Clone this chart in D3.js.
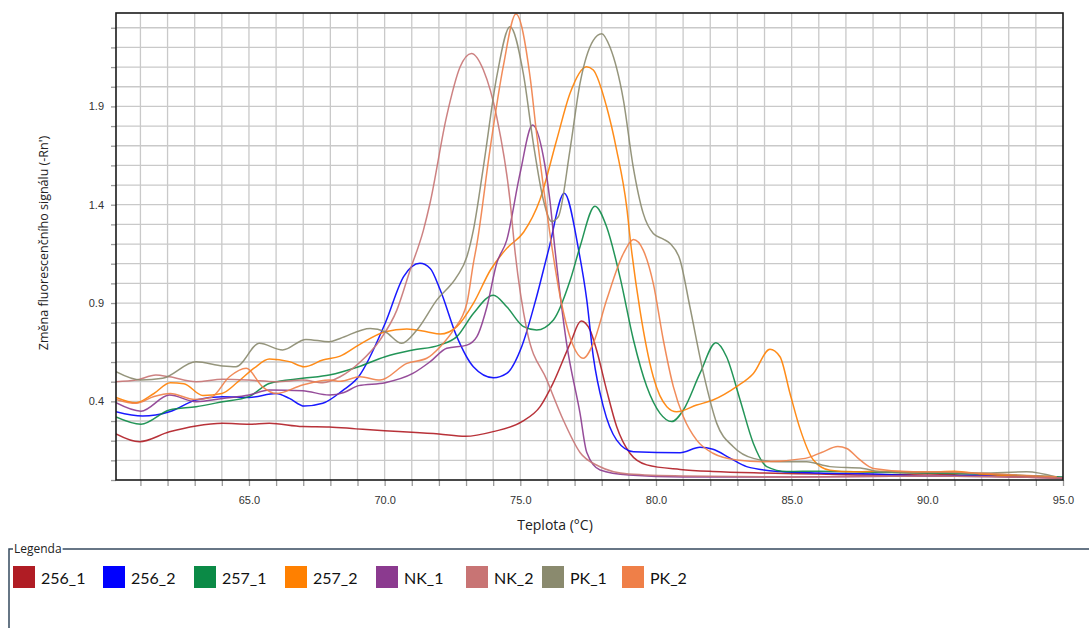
<!DOCTYPE html>
<html>
<head>
<meta charset="utf-8">
<script src="https://cdn.jsdelivr.net/npm/d3@7"></script>
<style>
  body { margin: 0; background: #fff; }
  svg { display: block; }
</style>
</head>
<body>
<div id="chart"></div>
<script>
// melt curves, [teplota, -Rn']
const s256_1 = [[60.1,0.235],[60.96,0.195],[62.07,0.245],[63.05,0.275],[64.03,0.288],[65.0,0.283],[65.75,0.288],[66.98,0.272],[67.96,0.27],[68.95,0.26],[70.0,0.25],[71.0,0.243],[72.0,0.234],[72.97,0.222],[74.0,0.246],[75.06,0.297],[75.73,0.373],[76.2,0.49],[76.84,0.695],[77.24,0.808],[77.57,0.762],[77.81,0.661],[78.18,0.457],[78.55,0.272],[79.04,0.136],[79.66,0.077],[80.89,0.054],[82.1,0.043],[84,0.035],[86,0.03],[88,0.025],[90,0.03],[92,0.02],[95,0.01]];
const s256_2 = [[60.1,0.347],[61.08,0.325],[62.07,0.347],[63.05,0.407],[64.03,0.424],[65.0,0.42],[66.0,0.44],[66.49,0.415],[67.04,0.376],[67.72,0.39],[68.45,0.455],[69.04,0.525],[70.02,0.797],[70.7,1.034],[71.3,1.102],[71.68,1.076],[72.05,0.966],[72.66,0.729],[73.27,0.576],[74.01,0.52],[74.5,0.542],[75.05,0.678],[75.6,0.932],[76.04,1.169],[76.62,1.458],[77.15,1.169],[77.45,0.915],[77.69,0.627],[78.06,0.373],[78.55,0.203],[79.17,0.144],[80.89,0.139],[81.62,0.166],[82.1,0.156],[82.73,0.111],[83.34,0.068],[84.57,0.043],[86,0.035],[88,0.03],[89.5,0.022],[90.5,0.02],[92,0.025],[95,0.012]];
const s257_1 = [[60.1,0.321],[61.02,0.284],[62.07,0.356],[63.05,0.373],[64.03,0.398],[65.0,0.424],[65.75,0.491],[66.98,0.517],[67.96,0.534],[69.04,0.576],[70.02,0.627],[71.04,0.661],[72.02,0.686],[72.66,0.729],[73.27,0.847],[74.01,0.94],[74.5,0.881],[75.12,0.78],[75.6,0.763],[76.22,0.814],[76.84,1.017],[77.2,1.186],[77.75,1.392],[78.18,1.288],[78.67,1.034],[79.17,0.712],[79.66,0.475],[80.15,0.339],[80.58,0.297],[81.01,0.356],[81.62,0.542],[82.21,0.698],[82.6,0.627],[83.1,0.407],[83.59,0.186],[84.08,0.068],[84.82,0.043],[86,0.045],[88,0.04],[90,0.035],[92,0.03],[95,0.015]];
const s257_2 = [[60.1,0.42],[60.84,0.393],[61.5,0.44],[62.1,0.495],[62.6,0.49],[63.3,0.43],[64.0,0.44],[64.6,0.5],[65.2,0.57],[65.75,0.615],[66.49,0.602],[67.04,0.576],[67.72,0.61],[68.36,0.63],[69.04,0.686],[70.02,0.754],[70.82,0.768],[71.55,0.754],[72.05,0.742],[72.66,0.78],[73.27,0.898],[73.9,1.068],[74.5,1.178],[75.12,1.26],[75.72,1.424],[76.34,1.729],[76.83,1.966],[77.44,2.102],[77.69,2.085],[78.18,1.898],[78.55,1.678],[78.92,1.389],[79.08,1.19],[79.41,0.864],[79.9,0.525],[80.4,0.373],[80.76,0.347],[81.5,0.381],[82.1,0.407],[82.97,0.475],[83.59,0.542],[84.2,0.665],[84.57,0.627],[84.94,0.44],[85.31,0.26],[85.8,0.102],[86.41,0.05],[87.27,0.042],[88.25,0.045],[90,0.04],[91,0.045],[92,0.03],[95,0.012]];
const sNK_1 = [[60.1,0.393],[61.02,0.35],[62.07,0.432],[63.05,0.398],[64.03,0.415],[65.0,0.432],[65.75,0.458],[66.98,0.454],[67.96,0.432],[68.5,0.445],[69.04,0.48],[70.02,0.495],[71.04,0.542],[71.68,0.602],[72.29,0.67],[73.03,0.686],[73.4,0.729],[73.77,0.881],[74.13,1.102],[74.5,1.22],[74.99,1.559],[75.45,1.805],[75.85,1.644],[76.09,1.423],[76.28,1.169],[76.7,0.7],[77.2,0.34],[77.45,0.14],[77.94,0.051],[79,0.025],[81,0.015],[85,0.015],[90,0.02],[95,0.01]];
const sNK_2 = [[60.1,0.5],[60.84,0.508],[61.57,0.534],[62.07,0.525],[63.05,0.5],[64.03,0.512],[65.0,0.508],[66.0,0.5],[66.98,0.508],[67.72,0.495],[68.36,0.525],[69.1,0.6],[69.83,0.712],[70.45,0.864],[70.94,1.068],[71.43,1.271],[71.67,1.406],[72.28,1.847],[72.78,2.1],[73.2,2.169],[73.64,2.085],[74.13,1.847],[74.62,1.423],[74.8,1.169],[75.24,0.763],[75.98,0.508],[76.6,0.3],[77.2,0.14],[77.9,0.07],[79,0.03],[81,0.02],[85,0.015],[90,0.02],[95,0.01]];
const sPK_1 = [[60.1,0.551],[61.02,0.508],[61.82,0.517],[63.05,0.601],[64.03,0.58],[64.52,0.576],[65.38,0.695],[66.24,0.661],[67.1,0.715],[67.96,0.703],[68.36,0.72],[69.47,0.771],[70.02,0.754],[70.63,0.695],[71.19,0.763],[71.92,0.915],[72.66,1.034],[73.03,1.135],[73.27,1.271],[73.64,1.593],[74.13,2.05],[74.62,2.305],[75.11,2.068],[75.48,1.712],[75.85,1.424],[76.15,1.315],[76.4,1.339],[76.83,1.678],[77.2,2.017],[77.69,2.236],[78.0,2.27],[78.3,2.203],[78.8,1.932],[79.16,1.593],[79.53,1.356],[79.9,1.254],[80.27,1.225],[80.52,1.203],[80.89,1.118],[81.25,0.881],[81.75,0.542],[82.24,0.288],[82.85,0.169],[83.59,0.11],[84.57,0.093],[85.55,0.093],[86.41,0.068],[87.64,0.059],[88.25,0.042],[90,0.04],[92,0.035],[93.66,0.042],[94.77,0.014]];
const sPK_2 = [[60.1,0.41],[60.84,0.39],[61.5,0.425],[62.1,0.44],[63.0,0.41],[63.6,0.42],[64.28,0.525],[64.9,0.568],[65.5,0.474],[66.0,0.44],[66.98,0.483],[67.96,0.508],[68.36,0.502],[69.1,0.525],[69.83,0.508],[70.82,0.593],[71.55,0.619],[72.05,0.678],[72.54,0.763],[73.03,0.898],[73.27,1.102],[73.4,1.2],[73.88,1.678],[74.37,2.102],[74.84,2.37],[75.36,2.05],[75.6,1.762],[75.85,1.491],[76.09,1.254],[76.47,0.932],[76.9,0.7],[77.32,0.619],[77.69,0.695],[78.18,0.915],[78.8,1.152],[79.17,1.223],[79.53,1.169],[79.9,1.0],[80.27,0.712],[80.64,0.475],[81.01,0.322],[81.5,0.203],[82.1,0.136],[82.97,0.102],[83.96,0.093],[85.5,0.11],[86.1,0.14],[86.7,0.17],[87.03,0.16],[87.52,0.102],[88.01,0.059],[89.48,0.042],[90.7,0.042],[91.94,0.034],[94.77,0.017]];

const seriesNames = ["256_1", "256_2", "257_1", "257_2", "NK_1", "NK_2", "PK_1", "PK_2"];
const seriesData = [s256_1, s256_2, s257_1, s257_2, sNK_1, sNK_2, sPK_1, sPK_2];
const seriesColors = ["#b01c24", "#0000ff", "#0b8a46", "#ff8000", "#8b3a8f", "#c87474", "#8a8a6e", "#ef7f48"];

const xLabelTicks = [65, 70, 75, 80, 85, 90, 95];
const yLabelTicks = [0.4, 0.9, 1.4, 1.9];
const xTitle = "Teplota (°C)";
const yTitle = "Změna fluorescenčního signálu (-Rn')";
const legendTitle = "Legenda";

const width = 1089, height = 628;
const plot = {left: 116, top: 13, right: 1063, bottom: 480};
const legendX = [13, 103, 194, 285, 376, 466, 542, 622];

const svg = d3.select("#chart").append("svg")
  .attr("width", width)
  .attr("height", height);

const x = d3.scaleLinear().domain([60.1, 95]).range([plot.left, plot.right]);
const y = d3.scaleLinear().domain([0, 2.375]).range([plot.bottom, plot.top]);

const xMinor = d3.range(61, 96);
const yMinor = d3.range(0, 24).map(i => i / 10);

// grid
const grid = svg.append("g").attr("stroke", "#c9c9c9").attr("stroke-width", 1.3);
grid.selectAll(".vg").data(xMinor.filter(t => t < 95)).enter().append("line")
  .attr("x1", d => x(d)).attr("x2", d => x(d))
  .attr("y1", plot.top).attr("y2", plot.bottom);
grid.selectAll(".hg").data(yMinor.filter(v => v > 0)).enter().append("line")
  .attr("x1", plot.left).attr("x2", plot.right)
  .attr("y1", d => y(d)).attr("y2", d => y(d));

// axes
const fmt = d3.format(".1f");
const xAxis = svg.append("g")
  .attr("transform", "translate(0," + plot.bottom + ")")
  .call(d3.axisBottom(x).tickValues(xMinor).tickSize(6).tickPadding(10).tickSizeOuter(0)
    .tickFormat(d => xLabelTicks.includes(d) ? fmt(d) : ""));
const yAxis = svg.append("g")
  .attr("transform", "translate(" + plot.left + ",0)")
  .call(d3.axisLeft(y).tickValues(yMinor).tickSize(5).tickPadding(7).tickSizeOuter(0)
    .tickFormat(d => yLabelTicks.some(v => Math.abs(v - d) < 1e-6) ? fmt(d) : ""));
[xAxis, yAxis].forEach(a => {
  a.select(".domain").remove();
  a.selectAll(".tick line").attr("stroke", "#9a9a9a").attr("stroke-width", 1.3);
  a.selectAll(".tick text")
    .attr("fill", "#333")
    .style("font-family", "'Liberation Sans', Arial, sans-serif")
    .style("font-size", "11px");
});

// curves
svg.append("clipPath").attr("id", "clip")
  .append("rect")
  .attr("x", plot.left).attr("y", plot.top)
  .attr("width", plot.right - plot.left).attr("height", plot.bottom - plot.top);

const line = d3.line()
  .x(d => x(d[0]))
  .y(d => y(d[1]))
  .curve(d3.curveMonotoneX);

svg.append("g").attr("clip-path", "url(#clip)")
  .selectAll("path")
  .data(seriesData)
  .enter()
  .append("path")
    .attr("d", line)
    .attr("fill", "none")
    .attr("stroke", (d, i) => seriesColors[i])
    .attr("stroke-width", 1.5)
    .attr("stroke-opacity", 0.9);

// frame
svg.append("rect")
  .attr("x", plot.left).attr("y", plot.top)
  .attr("width", plot.right - plot.left).attr("height", plot.bottom - plot.top)
  .attr("fill", "none")
  .attr("stroke", "#1a1a1a")
  .attr("stroke-width", 1.6);

// axis titles
svg.append("text")
  .attr("x", 555)
  .attr("y", 530)
  .attr("text-anchor", "middle")
  .style("font-family", "'Open Sans', sans-serif")
  .style("font-size", "14px")
  .attr("fill", "#222")
  .text(xTitle);

svg.append("text")
  .attr("transform", "translate(48,243)rotate(-90)")
  .attr("text-anchor", "middle")
  .style("font-family", "'Open Sans', sans-serif")
  .style("font-size", "12.5px")
  .attr("fill", "#222")
  .text(yTitle);

// legend
const lg = svg.append("g");
const lineY = 549;
lg.append("path")
  .attr("d", "M9," + height + "V" + lineY + "H13")
  .attr("fill", "none")
  .attr("stroke", "#34495e")
  .attr("stroke-width", 1.5);
const lt = lg.append("text")
  .attr("x", 14).attr("y", lineY + 4)
  .style("font-family", "'Open Sans', sans-serif")
  .style("font-size", "12px")
  .attr("fill", "#222")
  .text(legendTitle);
const ltEnd = 14 + lt.node().getComputedTextLength() + 1;
lg.append("line")
  .attr("x1", ltEnd).attr("x2", width)
  .attr("y1", lineY).attr("y2", lineY)
  .attr("stroke", "#34495e")
  .attr("stroke-width", 1.5);

seriesNames.forEach((name, i) => {
  const lx = legendX[i];
  lg.append("rect")
    .attr("x", lx).attr("y", 566)
    .attr("width", 22).attr("height", 22)
    .attr("fill", seriesColors[i]);
  lg.append("text")
    .attr("x", lx + 28).attr("y", 584)
    .style("font-family", "Lato, 'Open Sans', sans-serif")
    .style("font-size", "16px")
    .attr("fill", "#111")
    .text(name);
});
</script>
</body>
</html>
